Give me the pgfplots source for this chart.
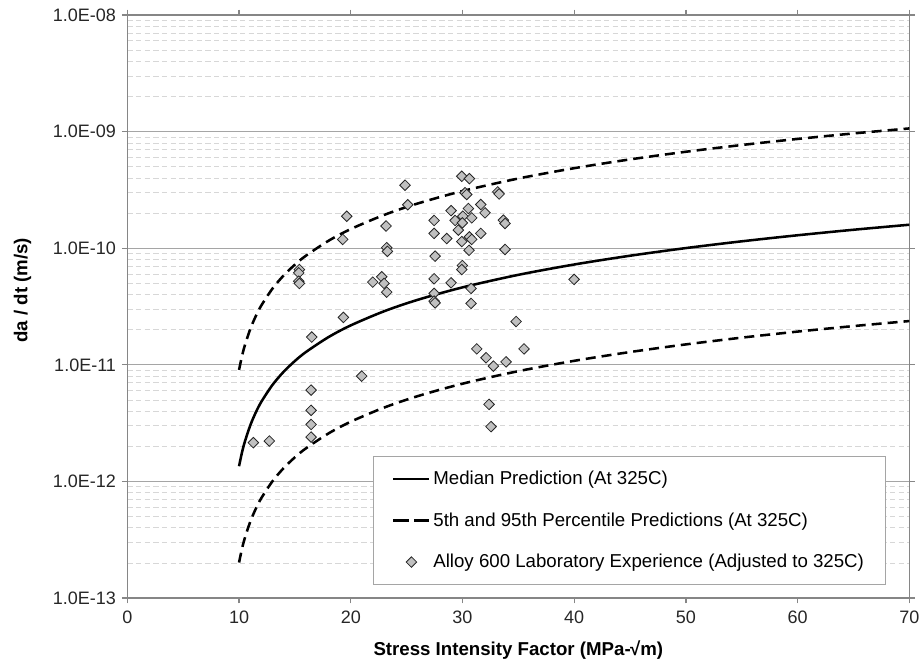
\documentclass[border=0pt]{standalone}
\usepackage{fontspec}
\setmainfont{Liberation Sans}
\usepackage{pgfplots}
\usepackage{pgfplotstable}
\pgfplotsset{compat=1.18}
\definecolor{axgray}{RGB}{134,134,134}
\definecolor{majgrid}{RGB}{165,165,165}
\definecolor{mingrid}{RGB}{215,215,215}
\definecolor{mfill}{RGB}{192,192,192}
\pgfplotsset{
  linelegend/.style={legend image code/.code={\draw[##1, line width=1.9pt] (0pt,0pt) -- (27pt,0pt);}},
  dashlegend/.style={legend image code/.code={\draw[##1, line width=1.9pt, dash pattern=on 11.5pt off 4pt] (0pt,0pt) -- (27pt,0pt);}},
  marklegend/.style={legend image code/.code={\draw[##1] plot coordinates {(13.5pt,0pt)};}},
}

\pgfplotstableread{
K y
10 1.35e-12
10.25 1.749e-12
10.5 2.161e-12
11 3.017e-12
11.5 3.908e-12
12 4.828e-12
13 6.741e-12
14 8.733e-12
15 1.079e-11
16 1.290e-11
18 1.727e-11
20 2.179e-11
23 2.883e-11
26 3.611e-11
30 4.614e-11
35 5.912e-11
40 7.250e-11
45 8.622e-11
50 1.0028e-10
55 1.1459e-10
60 1.2915e-10
65 1.4398e-10
70 1.5898e-10
}\mediandata

\pgfplotstableread{
K y
10 9.045e-12
10.25 1.1717e-11
10.5 1.4476e-11
11 2.0212e-11
11.5 2.6183e-11
12 3.235e-11
13 4.516e-11
14 5.851e-11
15 7.229e-11
16 8.644e-11
18 1.1570e-10
20 1.4602e-10
23 1.9317e-10
26 2.4195e-10
30 3.0916e-10
35 3.961e-10
40 4.857e-10
45 5.777e-10
50 6.719e-10
55 7.677e-10
60 8.653e-10
65 9.646e-10
70 1.0651e-9
}\upperdata

\pgfplotstableread{
K y
10 2.015e-13
10.25 2.610e-13
10.5 3.225e-13
11 4.503e-13
11.5 5.833e-13
12 7.207e-13
13 1.0061e-12
14 1.3034e-12
15 1.6104e-12
16 1.9257e-12
18 2.5775e-12
20 3.253e-12
23 4.303e-12
26 5.390e-12
30 6.887e-12
35 8.823e-12
40 1.0820e-11
45 1.2869e-11
50 1.4967e-11
55 1.7103e-11
60 1.9277e-11
65 2.1489e-11
70 2.3727e-11
}\lowerdata

\pgfplotstableread{
K y
24.86 3.47e-10
25.10 2.36e-10
19.64 1.88e-10
23.16 1.55e-10
19.28 1.19e-10
23.22 1.01e-10
23.28 9.4e-11
15.40 6.56e-11
15.34 6.15e-11
15.34 5.21e-11
15.40 4.99e-11
21.97 5.12e-11
22.77 5.69e-11
22.98 4.99e-11
23.22 4.2e-11
19.34 2.55e-11
29.94 4.14e-10
30.62 3.95e-10
30.23 2.99e-10
30.38 2.89e-10
33.16 3.04e-10
33.28 2.92e-10
28.98 2.10e-10
30.53 2.19e-10
31.64 2.37e-10
32.02 2.01e-10
27.46 1.73e-10
29.34 1.73e-10
30.03 1.88e-10
30.83 1.82e-10
29.99 1.65e-10
29.63 1.43e-10
33.66 1.74e-10
33.81 1.63e-10
27.46 1.34e-10
28.59 1.21e-10
30.62 1.25e-10
31.64 1.34e-10
29.94 1.14e-10
30.83 1.19e-10
30.59 9.6e-11
33.81 9.76e-11
27.55 8.55e-11
29.99 7.11e-11
29.94 6.56e-11
27.46 5.47e-11
28.98 5.05e-11
39.99 5.4e-11
30.77 4.52e-11
27.46 4.1e-11
27.46 3.52e-11
27.55 3.4e-11
30.77 3.36e-11
34.80 2.35e-11
16.51 1.73e-11
20.98 8.0e-12
16.45 6.07e-12
16.45 4.07e-12
16.45 3.08e-12
16.45 2.4e-12
11.28 2.15e-12
12.71 2.22e-12
31.28 1.37e-11
32.11 1.15e-11
32.77 9.75e-12
33.90 1.06e-11
35.51 1.37e-11
32.38 4.58e-12
32.56 2.95e-12
}\labdata

\begin{document}
\begin{tikzpicture}
\begin{axis}[
  scale only axis, width=586.5pt, height=437.25pt,
  xmin=0, xmax=70, ymin=1e-13, ymax=1e-8, ymode=log,
  xtick={0,10,20,30,40,50,60,70},
  xticklabels={0,10,20,30,40,50,60,70},
  ytick={1e-13,1e-12,1e-11,1e-10,1e-9,1e-8},
  yticklabels={1.0E-13,1.0E-12,1.0E-11,1.0E-10,1.0E-09,1.0E-08},
  minor ytick={2e-13,3e-13,4e-13,5e-13,6e-13,7e-13,8e-13,9e-13,
    2e-12,3e-12,4e-12,5e-12,6e-12,7e-12,8e-12,9e-12,
    2e-11,3e-11,4e-11,5e-11,6e-11,7e-11,8e-11,9e-11,
    2e-10,3e-10,4e-10,5e-10,6e-10,7e-10,8e-10,9e-10,
    2e-9,3e-9,4e-9,5e-9,6e-9,7e-9,8e-9,9e-9},
  axis line style={axgray, line width=1.1pt},
  ymajorgrids, yminorgrids,
  major grid style={majgrid, line width=0.9pt},
  minor grid style={mingrid, line width=0.6pt, dash pattern=on 4pt off 2.5pt},
  tick style={axgray, line width=0.9pt},
  major tick length=4pt, minor tick length=0pt,
  tick align=outside,
  /pgf/number format/assume math mode=true,
  ticklabel style={font=\fontsize{13.5}{16}\selectfont, text=black!85},
  xticklabel style={yshift=-2pt},
  yticklabel style={xshift=-1pt},
  xlabel={Stress Intensity Factor (MPa-\kern-0.5pt√m)},
  ylabel={da / dt (m/s)},
  xlabel style={font=\bfseries\fontsize{14}{16}\selectfont, at={(axis description cs:0.5,-0.0892)}, anchor=center},
  ylabel style={font=\bfseries\fontsize{14}{16}\selectfont, at={(axis description cs:-0.134,0.528)}, anchor=center},
  legend style={at={(0.970,0.0223)}, anchor=south east, draw=majgrid, line width=0.8pt,
    fill=white, font=\fontsize{14}{16}\selectfont, row sep=15.5pt, inner xsep=14pt, inner ysep=9pt,
    nodes={inner xsep=2pt}},
  legend cell align=left,
]
\coordinate (ll) at (rel axis cs:0,0);
\addplot[black, line width=1.9pt, smooth, linelegend] table[x=K,y=y] {\mediandata};
\addlegendentry{Median Prediction (At 325C)}
\addplot[black, line width=1.9pt, smooth, dash pattern=on 7.5pt off 4.5pt, dashlegend] table[x=K,y=y] {\upperdata};
\addlegendentry{5th and 95th Percentile Predictions (At 325C)}
\addplot[black, line width=1.9pt, smooth, dash pattern=on 7.5pt off 4.5pt, forget plot] table[x=K,y=y] {\lowerdata};
\addplot[only marks, mark=square*, mark size=2.8pt, mark options={rotate=45, fill=mfill, draw=black!85, line width=0.6pt}, marklegend] table[x=K,y=y] {\labdata};
\addlegendentry{Alloy 600 Laboratory Experience (Adjusted to 325C)}
\end{axis}
\pgfresetboundingbox
\path (ll) ++(-95.5pt,-48.75pt) rectangle ++(690pt,497.25pt);
\end{tikzpicture}
\end{document}
